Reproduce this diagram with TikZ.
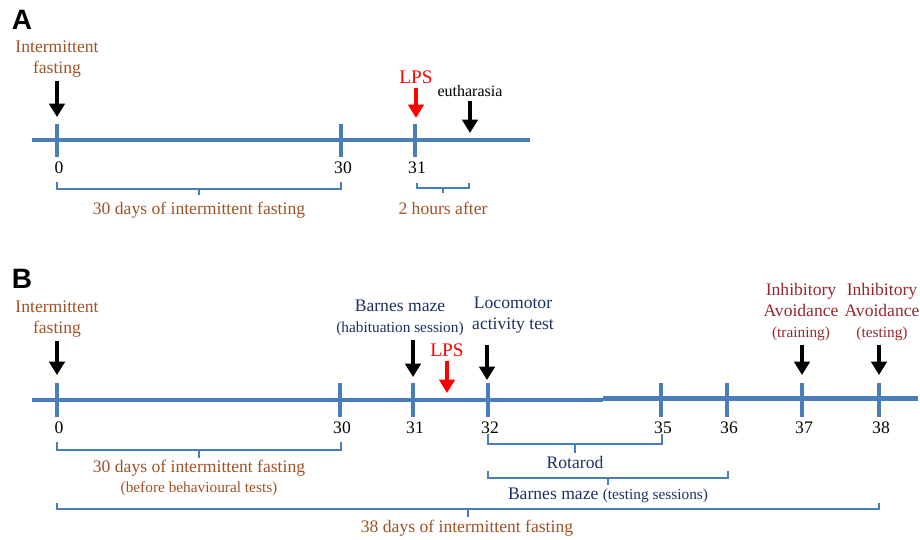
\documentclass[tikz,border=0pt]{standalone}
\usepackage{fontspec}
\setmainfont{Liberation Serif}
\newfontfamily\panelfont{Liberation Sans}
\usetikzlibrary{arrows.meta}
\definecolor{lineblue}{RGB}{74,126,187}
\definecolor{fastbrown}{RGB}{160,82,38}
\definecolor{testnavy}{RGB}{28,48,102}
\definecolor{avoidred}{RGB}{150,40,45}
\newcommand{\subfont}{\fontsize{11.5}{13}\selectfont}
\tikzstyle{axisline}=[draw=lineblue,line width=3.7pt]
\tikzstyle{daytick}=[draw=lineblue,line width=3pt]
\tikzstyle{bracket}=[draw=lineblue,line width=1.5pt]
\tikzstyle{evarrow}=[draw,line width=3.6pt,shorten <=3pt,-{Triangle[width=11.5pt,length=10pt]}]
\tikzstyle{lbl}=[font=\fontsize{13.2}{15.5}\selectfont,inner sep=0pt,align=center]
\tikzstyle{daynum}=[font=\fontsize{13.2}{15}\selectfont,inner sep=0pt]
\tikzstyle{panel}=[font=\panelfont\bfseries\fontsize{21}{24}\selectfont,inner sep=0pt]

\begin{document}
\begin{tikzpicture}[x=0.75pt,y=-0.75pt]
				\useasboundingbox (0,0) rectangle (920,539);

				% Panel A: the time line with its days
				\node[panel] (pA) at (22,20) {A};
				\draw[axisline] (32,140) -- (530,140);
				\foreach \x/\d in {57/0, 341/30, 415/31}{
					\draw[daytick] (\x,124) -- (\x,157);
					\node[daynum] (nA\d) at (\x+2,168) {\d};
				}

				% events of panel A
				\node[lbl,text=fastbrown] (ifA) at (57,59) {Intermittent\\fasting};
				\node[lbl,text=red,font=\fontsize{14.4}{16}\selectfont] (lpsA) at (416,77) {LPS};
				\node[lbl,font=\fontsize{12}{14}\selectfont] (euA) at (470,91) {eutharasia};
				\coordinate (ifAtip) at (57,117);
				\coordinate (lpsAtip) at (416,118);
				\coordinate (euAtip) at (470,133);
				\draw[evarrow] (ifA.south -| ifAtip) -- (ifAtip);
				\draw[evarrow,red] (lpsA.south -| lpsAtip) -- (lpsAtip);
				\draw[evarrow] (euA.south -| euAtip) -- (euAtip);

				% Panel B: the time line with its days
				\node[panel] (pB) at (22,279) {B};
				\draw[axisline] (32,400) -- (603,400);
				\draw[axisline] (603,398.5) -- (918,398.5);
				\foreach \x/\d in {57/0, 340/30, 413/31, 488/32, 661/35, 727/36, 802/37, 879/38}{
					\draw[daytick] (\x,383) -- (\x,417);
					\node[daynum] (nB\d) at (\x+2,428) {\d};
				}

				% events of panel B
				\node[lbl,text=fastbrown] (ifB) at (57,319) {Intermittent\\fasting};
				\node[lbl,text=testnavy] (bmB) at (400,318) {Barnes maze\\{\subfont(habituation session)}};
				\node[lbl,text=red,font=\fontsize{14.4}{16}\selectfont] (lpsB) at (447,350) {LPS};
				\node[lbl,text=testnavy] (locB) at (513,315) {Locomotor\\activity test};
				\node[lbl,text=avoidred] (iaTr) at (801,312) {Inhibitory\\Avoidance\\{\subfont(training)}};
				\node[lbl,text=avoidred] (iaTe) at (882,312) {Inhibitory\\Avoidance\\{\subfont(testing)}};
				\coordinate (ifBtip) at (57,375);
				\coordinate (bmBtip) at (413,377);
				\coordinate (lpsBtip) at (447,393);
				\coordinate (locBtip) at (487,380);
				\coordinate (iaTrtip) at (802,375);
				\coordinate (iaTetip) at (879,375);
				\draw[evarrow] (ifB.south -| ifBtip) -- (ifBtip);
				\draw[evarrow] (bmB.south -| bmBtip) -- (bmBtip);
				\draw[evarrow,red] (lpsB.south -| lpsBtip) -- (lpsBtip);
				\draw[evarrow,shorten <=9pt] (locB.south -| locBtip) -- (locBtip);
				\draw[evarrow] (iaTr.south -| iaTrtip) -- (iaTrtip);
				\draw[evarrow] (iaTe.south -| iaTetip) -- (iaTetip);

				% Brackets under both time lines
				\foreach \xa/\xb/\ya/\yb/\yc in {57/341/182/189/195, 417/469/183/188/193,
										57/341/442/450/458, 488/662/434/444/453,
										488/728/471/478/485, 57/879/503/509/517}
				\draw[bracket] (\xa,\ya) -- (\xa,\yb) -- (\xb,\yb) -- (\xb,\ya)
					({(\xa+\xb)/2},\yb) -- ({(\xa+\xb)/2},\yc);

				\node[lbl,text=fastbrown] (brA30) at (199,210) {30 days of intermittent fasting};
				\node[lbl,text=fastbrown] (brA2h) at (443,208) {2 hours after};
				\node[lbl,text=fastbrown] (brB30) at (199,478) {30 days of intermittent fasting\\{\subfont(before behavioural tests)}};
				\node[lbl,text=testnavy] (brRot) at (575,462) {Rotarod};
				\node[lbl,text=testnavy] (brBm) at (608,495) {Barnes maze {\subfont(testing sessions)}};
				\node[lbl,text=fastbrown] (brB38) at (467,528) {38 days of intermittent fasting};

			\end{tikzpicture}
\end{document}
